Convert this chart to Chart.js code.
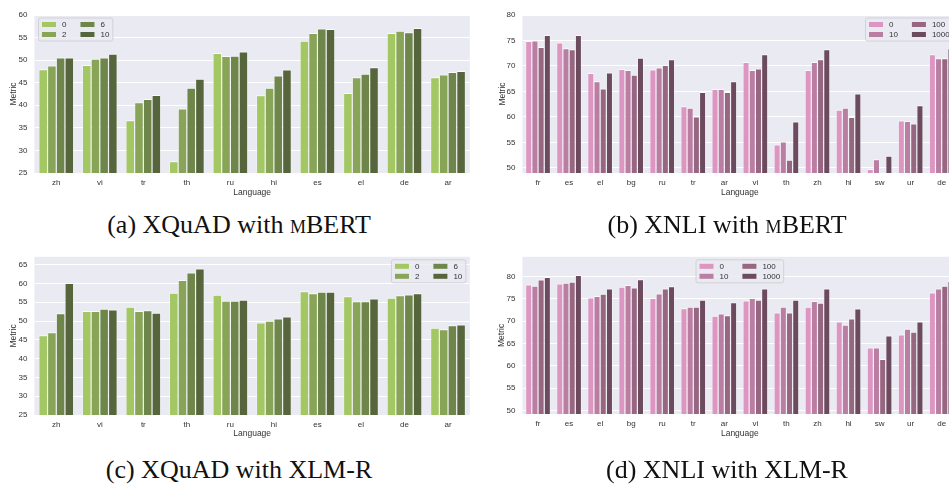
<!DOCTYPE html>
<html>
<head>
<meta charset="utf-8">
<script src="https://cdn.jsdelivr.net/npm/chart.js@4.4.1/dist/chart.umd.min.js"></script>
<style>
html, body { margin: 0; padding: 0; background: #fff; }
body { width: 949px; height: 484px; overflow: hidden; position: relative; }
canvas { position: absolute; }
.cap { position: absolute; width: 475px; text-align: center; white-space: nowrap;
       font-family: "Liberation Serif", "DejaVu Serif", serif; font-size: 26px; line-height: 30px; color: #111; }
.sc { font-variant: small-caps; }
</style>
</head>
<body>
<canvas id="xquadMbert" width="475" height="200" style="left:0;top:0"></canvas>
<canvas id="xnliMbert" width="490" height="200" style="left:474px;top:0"></canvas>
<canvas id="xquadXlmr" width="475" height="200" style="left:0;top:245px"></canvas>
<canvas id="xnliXlmr" width="490" height="200" style="left:474px;top:245px"></canvas>

<div class="cap" style="left:1.5px;top:210px">(a) XQuAD with <span class="sc">m</span>BERT</div>
<div class="cap" style="left:489.5px;top:210px">(b) XNLI with <span class="sc">m</span>BERT</div>
<div class="cap" style="left:1.5px;top:455px">(c) XQuAD with XLM-R</div>
<div class="cap" style="left:489.5px;top:455px">(d) XNLI with XLM-R</div>

<script>
// categories
const xquadLangs = ['zh', 'vi', 'tr', 'th', 'ru', 'hi', 'es', 'el', 'de', 'ar'];
const xnliLangs = ['fr', 'es', 'el', 'bg', 'ru', 'tr', 'ar', 'vi', 'th', 'zh', 'hi', 'sw', 'ur', 'de'];
const xquadShots = ['0', '2', '6', '10'];
const xnliShots = ['0', '10', '100', '1000'];

// (a) XQuAD with mBERT
const mbertXquad0 = [48.0, 48.9, 36.7, 27.6, 51.6, 42.2, 54.3, 42.7, 56.0, 46.2];
const mbertXquad2 = [48.8, 50.3, 40.7, 39.3, 50.9, 43.9, 56.0, 46.2, 56.5, 46.8];
const mbertXquad6 = [50.6, 50.6, 41.4, 43.9, 51.0, 46.6, 57.0, 47.0, 56.2, 47.4];
const mbertXquad10 = [50.6, 51.4, 42.3, 45.9, 51.9, 47.9, 56.9, 48.4, 57.1, 47.6];

// (b) XNLI with mBERT
const mbertXnli0 = [74.9, 74.6, 68.6, 69.4, 69.3, 62.1, 65.5, 70.8, 54.6, 69.2, 61.4, 49.8, 59.3, 72.3];
const mbertXnli10 = [75.0, 73.5, 67.0, 69.2, 69.7, 61.8, 65.5, 69.2, 55.2, 70.8, 61.8, 51.7, 59.2, 71.5];
const mbertXnli100 = [73.7, 73.3, 65.6, 68.3, 70.2, 60.1, 64.9, 69.5, 51.6, 71.3, 60.0, 48.5, 58.7, 71.5];
const mbertXnli1000 = [76.1, 76.1, 68.7, 71.6, 71.3, 64.9, 67.0, 72.3, 59.1, 73.3, 64.6, 52.4, 62.3, 73.5];

// (c) XQuAD with XLM-R
const xlmrXquad0 = [46.2, 52.7, 53.8, 57.5, 57.0, 49.6, 57.9, 56.6, 56.2, 48.2];
const xlmrXquad2 = [47.0, 52.7, 52.7, 60.9, 55.4, 50.1, 57.4, 55.3, 56.9, 47.8];
const xlmrXquad6 = [52.1, 53.3, 52.9, 62.9, 55.4, 50.7, 57.8, 55.3, 57.1, 48.9];
const xlmrXquad10 = [60.1, 53.1, 52.2, 64.0, 55.7, 51.2, 57.8, 56.0, 57.4, 49.1];

// (d) XNLI with XLM-R
const xlmrXnli0 = [78.2, 78.4, 75.3, 77.7, 75.2, 72.9, 71.2, 74.6, 71.9, 73.2, 69.9, 64.1, 67.0, 76.4];
const xlmrXnli10 = [77.9, 78.6, 75.6, 78.1, 76.2, 73.2, 71.7, 75.2, 73.2, 74.5, 69.2, 64.1, 68.3, 77.3];
const xlmrXnli100 = [79.3, 78.8, 76.1, 77.5, 77.3, 73.2, 71.3, 74.8, 71.9, 74.1, 70.6, 61.5, 67.6, 77.9];
const xlmrXnli1000 = [79.9, 80.3, 77.3, 79.4, 77.8, 74.8, 74.2, 77.3, 74.8, 77.3, 72.8, 66.8, 69.9, 79.0];

// tick labels
const xquadMbertTicks = [25, 30, 35, 40, 45, 50, 55, 60];
const xquadXlmrTicks = [25, 30, 35, 40, 45, 50, 55, 60, 65];
const xnliTicks = [50, 55, 60, 65, 70, 75, 80];

const greens = ['#a3c763', '#88a456', '#6e8649', '#56653b'];
const pinks = ['#dc96c1', '#b97ea2', '#976781', '#6c4b5e'];

const SANS = '"Liberation Sans", Arial, sans-serif';
const TEXT = '#333333';

/*** plot background ***/
const plotBg = {
    id: 'plotBg',
    beforeDraw(chart) {
        const {ctx, chartArea: a} = chart;
        ctx.save();
        ctx.fillStyle = '#eaeaf2';
        ctx.fillRect(a.left, a.top, a.right - a.left, a.bottom - a.top);
        ctx.restore();
    }
};

/*** two-column legend, filled column by column ***/
const gridLegend = {
    id: 'gridLegend',
    afterDatasetsDraw(chart, args, opts) {
        const ctx = chart.ctx, area = chart.chartArea;
        const sets = chart.data.datasets;
        const pad = 3.5, sw = 14, sh = 5, gap = 6, colGap = 14, rowH = 10, boxH = 23;
        ctx.save();
        ctx.font = '8px ' + SANS;
        const cols = [[sets[0], sets[1]], [sets[2], sets[3]]];
        const colW = cols.map(c => sw + gap + Math.max(...c.map(d => ctx.measureText(d.label).width)));
        const boxW = pad * 2 + colW[0] + colGap + colW[1];
        let x;
        if (opts.loc === 'upper left') x = area.left + 4;
        else if (opts.loc === 'upper right') x = area.right - 4 - boxW;
        else x = (area.left + area.right) / 2 - boxW / 2;
        const y = area.top + 3;

        ctx.beginPath();
        ctx.roundRect(x, y, boxW, boxH, 2);
        ctx.fillStyle = 'rgba(234,234,242,0.8)';
        ctx.fill();
        ctx.strokeStyle = '#cccccc';
        ctx.lineWidth = 0.8;
        ctx.stroke();

        let cx = x + pad;
        cols.forEach((c, ci) => {
            c.forEach((d, ri) => {
                const cy = y + 6.5 + ri * rowH;
                ctx.fillStyle = d.backgroundColor;
                ctx.fillRect(cx, cy - sh / 2, sw, sh);
                ctx.fillStyle = TEXT;
                ctx.textBaseline = 'middle';
                ctx.textAlign = 'left';
                ctx.fillText(d.label, cx + sw + gap, cy + 0.5);
            });
            cx += colW[ci] + colGap;
        });
        ctx.restore();
    }
};

function makeChart(id, langs, shots, series, colors, yMin, yMax, yTicks, geo) {
    const datasets = series.map((vals, i) => ({
        label: shots[i],
        data: vals,
        backgroundColor: colors[i],
        borderColor: 'rgba(255,255,255,0.8)',
        borderWidth: {top: 1, left: 0.6, right: 0.6, bottom: 0},
        borderSkipped: false,
        categoryPercentage: 0.8,
        barPercentage: 1.0
    }));

    return new Chart(document.getElementById(id), {
        type: 'bar',
        data: {labels: langs, datasets: datasets},
        plugins: [plotBg, gridLegend],
        options: {
            responsive: false,
            animation: false,
            devicePixelRatio: 1,
            layout: {padding: {left: 0, top: geo.top, right: geo.right, bottom: 0}},
            plugins: {
                legend: {display: false},
                tooltip: {enabled: false},
                gridLegend: {loc: geo.legend}
            },
            scales: {
                x: {
                    grid: {display: false, drawTicks: false},
                    border: {display: false},
                    ticks: {color: TEXT, font: {family: SANS, size: 8}, padding: 5, maxRotation: 0},
                    title: {display: true, text: 'Language', color: TEXT,
                            font: {family: SANS, size: 8.5}, padding: {top: 0, bottom: geo.xTitlePad}},
                    afterFit: axis => { axis.height = geo.xAxisH; }
                },
                y: {
                    min: yMin,
                    max: yMax,
                    grid: {color: '#ffffff', lineWidth: 1, drawTicks: false},
                    border: {display: false},
                    ticks: {color: TEXT, font: {family: SANS, size: 8}, padding: 7},
                    afterBuildTicks: axis => { axis.ticks = yTicks.map(v => ({value: v})); },
                    title: {display: true, text: 'Metric', color: TEXT,
                            font: {family: SANS, size: 8.5}, padding: {top: geo.yTitlePad, bottom: 0}},
                    afterFit: axis => { axis.width = geo.yAxisW; }
                }
            }
        }
    });
}

makeChart('xquadMbert', xquadLangs, xquadShots,
    [mbertXquad0, mbertXquad2, mbertXquad6, mbertXquad10], greens, 25, 60, xquadMbertTicks,
    {top: 15, right: 5.2, yAxisW: 34.5, xAxisH: 27, xTitlePad: 2.6, yTitlePad: 8.2, legend: 'upper left'});

makeChart('xnliMbert', xnliLangs, xnliShots,
    [mbertXnli0, mbertXnli10, mbertXnli100, mbertXnli1000], pinks, 49.0, 80, xnliTicks,
    {top: 15, right: 6.8, yAxisW: 48.5, xAxisH: 27, xTitlePad: 2.6, yTitlePad: 23.2, legend: 'upper right'});

makeChart('xquadXlmr', xquadLangs, xquadShots,
    [xlmrXquad0, xlmrXquad2, xlmrXquad6, xlmrXquad10], greens, 25, 67.1, xquadXlmrTicks,
    {top: 11.7, right: 5.2, yAxisW: 34.5, xAxisH: 30, xTitlePad: 5.9, yTitlePad: 8.2, legend: 'upper right'});

makeChart('xnliXlmr', xnliLangs, xnliShots,
    [xlmrXnli0, xlmrXnli10, xlmrXnli100, xlmrXnli1000], pinks, 49.2, 84.4, xnliTicks,
    {top: 11, right: 6.8, yAxisW: 48.5, xAxisH: 31, xTitlePad: 5.9, yTitlePad: 22.6, legend: 'upper center'});
</script>
</body>
</html>
